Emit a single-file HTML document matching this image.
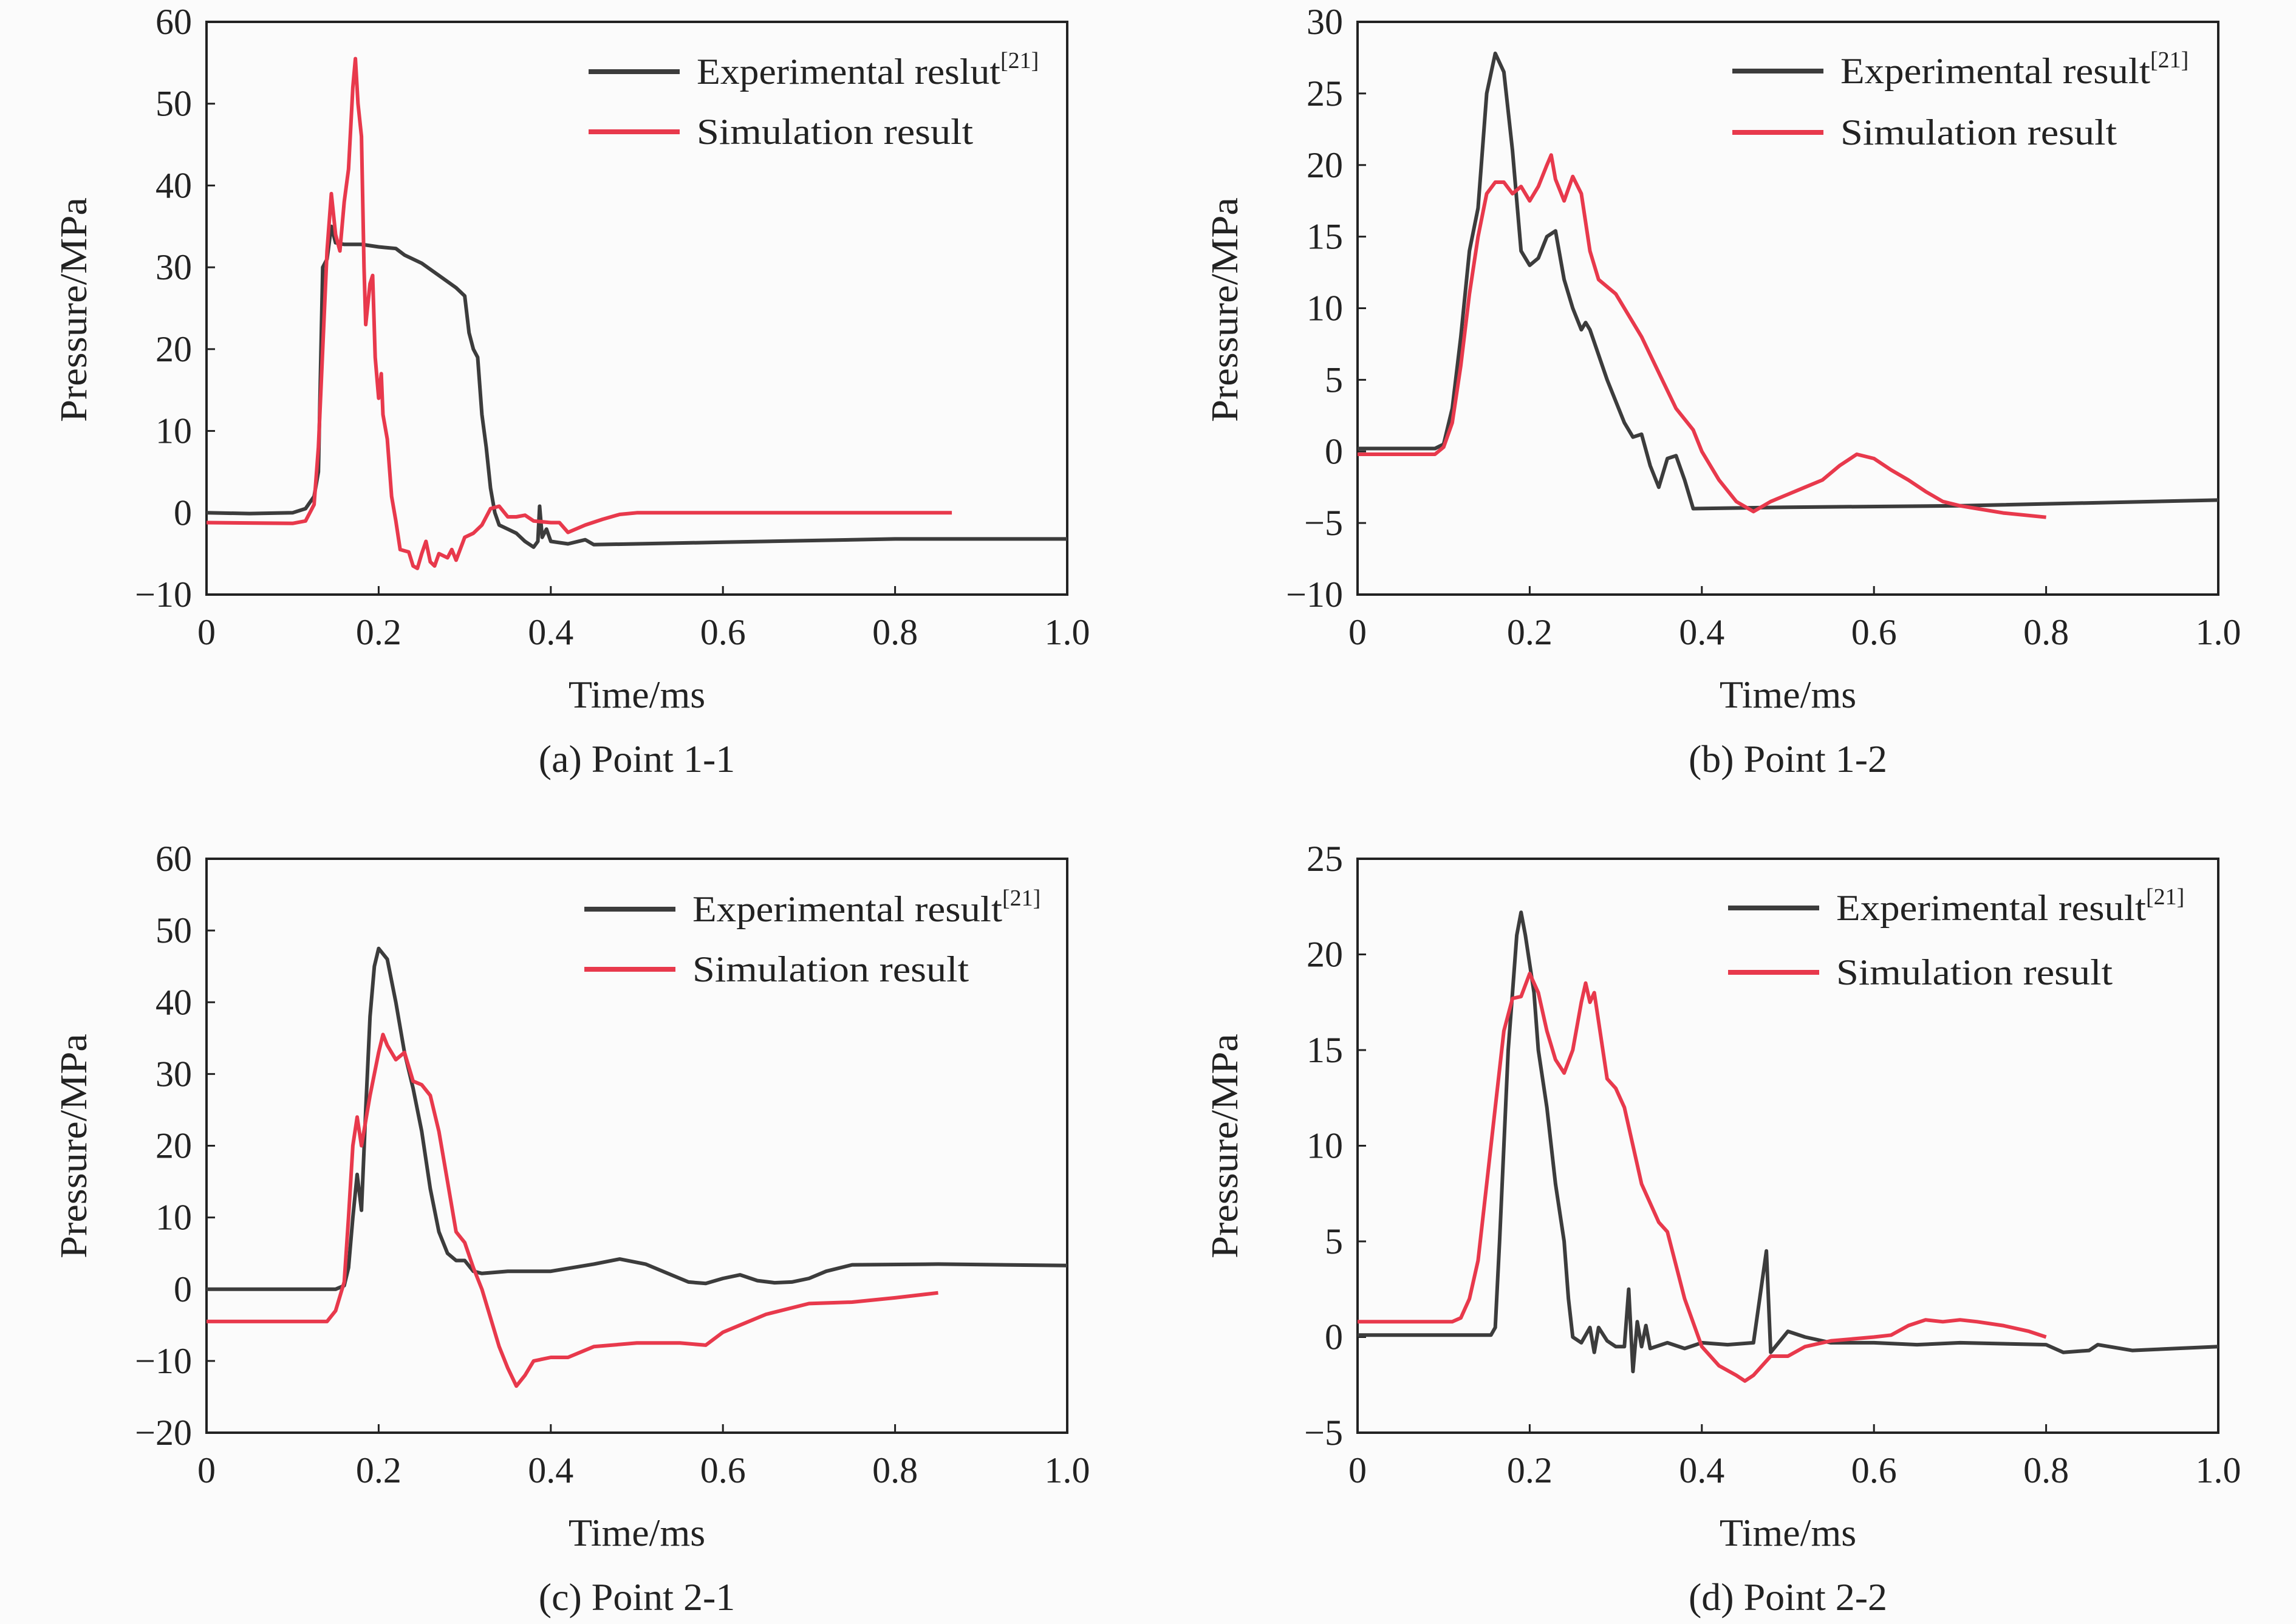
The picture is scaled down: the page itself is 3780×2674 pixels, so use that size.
<!DOCTYPE html>
<html><head><meta charset="utf-8">
<style>
html,body{margin:0;padding:0;background:#fbfbfb;}
svg{display:block;font-family:"Liberation Serif","DejaVu Serif",serif;}
</style></head>
<body>
<svg id="fig" width="3780" height="2674" viewBox="0 0 3780 2674" xmlns="http://www.w3.org/2000/svg">
<rect width="3780" height="2674" fill="#fbfbfb"/>
</svg>
<script>
// ---- Panel (a) Point 1-1 ----
const aExpT = [0,0.05,0.1,0.115,0.125,0.13,0.135,0.14,0.145,0.15,0.16,0.18,0.2,0.22,0.23,0.25,0.27,0.29,0.3,0.305,0.31,0.315,0.32,0.325,0.33,0.335,0.34,0.35,0.36,0.37,0.38,0.385,0.387,0.39,0.395,0.4,0.42,0.44,0.45,0.6,0.8,1.0];
const aExpP = [0,-0.1,0,0.5,2,5,30,31,35,33,32.8,32.8,32.5,32.3,31.5,30.5,29,27.5,26.5,22,20,19,12,8,3,0,-1.5,-2,-2.5,-3.5,-4.2,-3.5,0.8,-3,-2,-3.5,-3.8,-3.3,-3.9,-3.6,-3.2,-3.2];
const aSimT = [0,0.1,0.115,0.125,0.13,0.135,0.14,0.145,0.15,0.155,0.16,0.165,0.17,0.173,0.176,0.18,0.183,0.185,0.19,0.193,0.196,0.2,0.203,0.205,0.21,0.215,0.22,0.225,0.235,0.24,0.245,0.25,0.255,0.26,0.265,0.27,0.28,0.285,0.29,0.3,0.31,0.32,0.33,0.34,0.35,0.36,0.37,0.38,0.4,0.41,0.42,0.44,0.46,0.48,0.5,0.866];
const aSimP = [-1.2,-1.3,-1,1,8,20,32,39,34,32,38,42,52,55.5,50,46,30,23,28,29,19,14,17,12,9,2,-1,-4.5,-4.8,-6.5,-6.8,-5,-3.5,-6,-6.5,-5,-5.5,-4.5,-5.8,-3,-2.5,-1.5,0.5,0.8,-0.5,-0.5,-0.3,-1,-1.2,-1.2,-2.4,-1.5,-0.8,-0.2,0,0];
const aYTicks = [60,50,40,30,20,10,0,-10];
// ---- Panel (b) Point 1-2 ----
const bExpT = [0,0.09,0.1,0.11,0.12,0.13,0.14,0.15,0.16,0.17,0.18,0.19,0.2,0.21,0.22,0.23,0.24,0.25,0.26,0.265,0.27,0.29,0.31,0.32,0.33,0.34,0.35,0.36,0.37,0.38,0.39,0.5,0.7,1.0];
const bExpP = [0.2,0.2,0.5,3,8,14,17,25,27.8,26.5,21,14,13,13.5,15,15.4,12,10,8.5,9,8.5,5,2,1,1.2,-1,-2.5,-0.5,-0.3,-2,-4,-3.9,-3.8,-3.4];
const bSimT = [0,0.09,0.1,0.11,0.12,0.13,0.14,0.15,0.16,0.17,0.18,0.19,0.2,0.21,0.22,0.225,0.23,0.24,0.25,0.26,0.27,0.28,0.3,0.33,0.35,0.37,0.39,0.4,0.42,0.44,0.46,0.48,0.5,0.52,0.54,0.56,0.58,0.6,0.62,0.64,0.66,0.68,0.7,0.72,0.75,0.8];
const bSimP = [-0.2,-0.2,0.3,2,6,11,15,18,18.8,18.8,18,18.5,17.5,18.5,20,20.7,19,17.5,19.2,18,14,12,11,8,5.5,3,1.5,0,-2,-3.5,-4.2,-3.5,-3,-2.5,-2,-1,-0.2,-0.5,-1.3,-2,-2.8,-3.5,-3.8,-4,-4.3,-4.6];
const bYTicks = [30,25,20,15,10,5,0,-5,-10];
// ---- Panel (c) Point 2-1 ----
const cExpT = [0,0.15,0.16,0.165,0.17,0.175,0.18,0.185,0.19,0.195,0.2,0.21,0.22,0.23,0.24,0.25,0.26,0.27,0.28,0.29,0.3,0.31,0.32,0.35,0.4,0.45,0.48,0.51,0.54,0.56,0.58,0.6,0.62,0.64,0.66,0.68,0.7,0.72,0.75,0.85,1.0];
const cExpP = [0,0,0.5,3,10,16,11,25,38,45,47.5,46,40,33,28,22,14,8,5,4,4,2.5,2.2,2.5,2.5,3.5,4.2,3.5,2,1,0.8,1.5,2,1.2,0.9,1,1.5,2.5,3.4,3.5,3.3];
const cSimT = [0,0.14,0.15,0.16,0.165,0.17,0.175,0.18,0.19,0.2,0.205,0.21,0.22,0.23,0.24,0.25,0.26,0.27,0.28,0.29,0.3,0.31,0.32,0.33,0.34,0.35,0.36,0.37,0.38,0.4,0.42,0.45,0.5,0.55,0.58,0.6,0.62,0.65,0.7,0.75,0.8,0.85];
const cSimP = [-4.5,-4.5,-3,1,10,20,24,20,27,33,35.5,34,32,33,29,28.5,27,22,15,8,6.5,3,0,-4,-8,-11,-13.5,-12,-10,-9.5,-9.5,-8,-7.5,-7.5,-7.8,-6,-5,-3.5,-2,-1.8,-1.2,-0.5];
const cYTicks = [60,50,40,30,20,10,0,-10,-20];
// ---- Panel (d) Point 2-2 ----
const dExpT = [0,0.155,0.16,0.165,0.17,0.175,0.18,0.185,0.19,0.195,0.2,0.205,0.21,0.22,0.23,0.24,0.245,0.25,0.26,0.27,0.275,0.28,0.29,0.3,0.31,0.315,0.32,0.325,0.33,0.335,0.34,0.36,0.38,0.4,0.43,0.46,0.475,0.48,0.5,0.52,0.55,0.6,0.65,0.7,0.8,0.82,0.85,0.86,0.9,0.95,1.0];
const dExpP = [0.1,0.1,0.5,5,10,15,18,21,22.2,21,19.5,18,15,12,8,5,2,0,-0.3,0.5,-0.8,0.5,-0.2,-0.5,-0.5,2.5,-1.8,0.8,-0.5,0.6,-0.6,-0.3,-0.6,-0.3,-0.4,-0.3,4.5,-0.8,0.3,0,-0.3,-0.3,-0.4,-0.3,-0.4,-0.8,-0.7,-0.4,-0.7,-0.6,-0.5];
const dSimT = [0,0.11,0.12,0.13,0.14,0.15,0.16,0.17,0.18,0.19,0.2,0.21,0.22,0.23,0.24,0.25,0.26,0.265,0.27,0.275,0.28,0.29,0.3,0.31,0.33,0.35,0.36,0.38,0.4,0.42,0.44,0.45,0.46,0.48,0.5,0.52,0.55,0.6,0.62,0.64,0.66,0.68,0.7,0.72,0.75,0.78,0.8];
const dSimP = [0.8,0.8,1,2,4,8,12,16,17.7,17.8,19,18,16,14.5,13.8,15,17.5,18.5,17.5,18,16.5,13.5,13,12,8,6,5.5,2,-0.5,-1.5,-2,-2.3,-2,-1,-1,-0.5,-0.2,0,0.1,0.6,0.9,0.8,0.9,0.8,0.6,0.3,0];
const dYTicks = [25,20,15,10,5,0,-5];
const xTicks = [0,0.2,0.4,0.6,0.8,1.0];
const xTickLabels = ["0","0.2","0.4","0.6","0.8","1.0"];

const NS = "http://www.w3.org/2000/svg";
const fig = document.getElementById('fig');
function mk(tag, attrs, parent){
  const e = document.createElementNS(NS, tag);
  for (const k in attrs) e.setAttribute(k, attrs[k]);
  (parent||fig).appendChild(e);
  return e;
}
const EXP = "#3c3c3c", SIM = "#e8394c";

function panel(cfg){
  const g = mk('g', {});
  
  
  const L=cfg.x0, R=cfg.x1, T=cfg.y0, B=cfg.y1;
  const ymax=cfg.yt[0], ymin=cfg.yt[cfg.yt.length-1];
  const sx = t => L + (t-0)/(1.0-0)*(R-L);
  const sy = p => B - (p-ymin)/(ymax-ymin)*(B-T);
  const frame = mk('rect', {x:L, y:T, width:R-L, height:B-T, fill:'none', stroke:'#222', 'stroke-width':4}, g);
  
  
  cfg.yt.forEach(v=>{
    const y = sy(v);
    const tk = mk('line', {x1:L, x2:L+14, y1:y, y2:y, stroke:'#222','stroke-width':3}, g);
    
    
    const tx = mk('text', {x:L-24, y:y+20, 'text-anchor':'end', 'font-size':60, fill:'#222'}, g);
    tx.textContent = v<0 ? '\u2212'+Math.abs(v) : String(v);
    
    
  });
  xTicks.forEach((v,i)=>{
    const x = sx(v);
    const tk = mk('line', {x1:x, x2:x, y1:B, y2:B-14, stroke:'#222','stroke-width':3}, g);
    
    
    const tx = mk('text', {x:x, y:B+82, 'text-anchor':'middle', 'font-size':60, fill:'#222'}, g);
    tx.textContent = xTickLabels[i];
    
    
  });
  const xt = mk('text', {x:(L+R)/2, y:B+186, 'text-anchor':'middle', 'font-size':64, fill:'#222'}, g);
  xt.textContent = 'Time/ms';
  
  
  const cap = mk('text', {x:(L+R)/2, y:B+292, 'text-anchor':'middle', 'font-size':64, fill:'#222'}, g);
  cap.textContent = cfg.caption;
  
  
  const yc = cfg.yc;
  const yt = mk('text', {x:0, y:0, 'text-anchor':'middle', 'font-size':62, fill:'#222', textLength:370, lengthAdjust:'spacingAndGlyphs', transform:`translate(${L-198},${yc}) rotate(-90)`}, g);
  yt.textContent = 'Pressure/MPa';
  
  
  function series(ts, ps, col, nm){
    const d = ts.map((t,i)=>(i?'L':'M')+sx(t).toFixed(1)+','+sy(ps[i]).toFixed(1)).join(' ');
    const p = mk('path', {d:d, fill:'none', stroke:col, 'stroke-width':6, 'stroke-linejoin':'round'}, g);
    
    
  }
  series(cfg.et, cfg.ep, EXP, 'experimental-line');
  series(cfg.st, cfg.sp, SIM, 'simulation-line');
  const lg = mk('g', {}, g);
  
  
  const lx=cfg.lx, ly1=cfg.ly1, ly2=cfg.ly2;
  const l1 = mk('line', {x1:lx, x2:lx+150, y1:ly1, y2:ly1, stroke:EXP, 'stroke-width':8}, lg);
  
  
  const t1 = mk('text', {x:lx+178, y:ly1+20, 'font-size':60, fill:'#222'}, lg);
  const m1 = mk('tspan', {textLength:cfg.w1, lengthAdjust:'spacingAndGlyphs'}, t1);
  m1.textContent = cfg.expLabel;
  const s1 = mk('tspan', {'font-size':38, dy:-26}, t1);
  s1.textContent = '[21]';
  
  
  const l2 = mk('line', {x1:lx, x2:lx+150, y1:ly2, y2:ly2, stroke:SIM, 'stroke-width':8}, lg);
  
  
  const t2 = mk('text', {x:lx+178, y:ly2+20, 'font-size':60, fill:'#222', textLength:455, lengthAdjust:'spacingAndGlyphs'}, lg);
  t2.textContent = 'Simulation result';
  
  
}

panel({name:'panel-a', x0:340, x1:1757, y0:36, y1:979, yt:aYTicks, et:aExpT, ep:aExpP, st:aSimT, sp:aSimP, yc:510,
  caption:'(a) Point 1-1', lx:969, ly1:118, ly2:217, expLabel:'Experimental reslut', w1:500});
panel({name:'panel-b', x0:2235, x1:3652, y0:36, y1:979, yt:bYTicks, et:bExpT, ep:bExpP, st:bSimT, sp:bSimP, yc:510,
  caption:'(b) Point 1-2', lx:2852, ly1:117, ly2:218, expLabel:'Experimental result', w1:510});
panel({name:'panel-c', x0:340, x1:1757, y0:1414, y1:2359, yt:cYTicks, et:cExpT, ep:cExpP, st:cSimT, sp:cSimP, yc:1887,
  caption:'(c) Point 2-1', lx:962, ly1:1497, ly2:1596, expLabel:'Experimental result', w1:510});
panel({name:'panel-d', x0:2235, x1:3652, y0:1414, y1:2359, yt:dYTicks, et:dExpT, ep:dExpP, st:dSimT, sp:dSimP, yc:1887,
  caption:'(d) Point 2-2', lx:2845, ly1:1495, ly2:1601, expLabel:'Experimental result', w1:510});
</script>
</body></html>
